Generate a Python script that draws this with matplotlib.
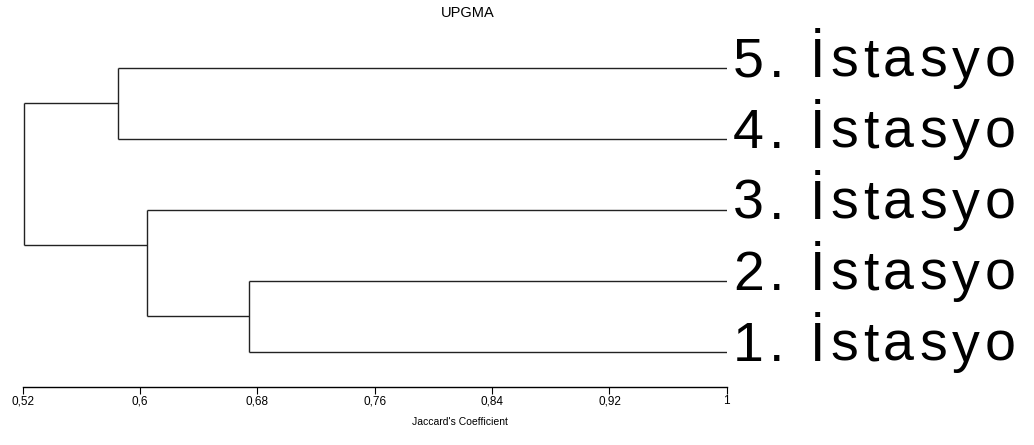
import matplotlib
matplotlib.use('Agg')
import matplotlib.pyplot as plt
from matplotlib import font_manager
from matplotlib.ft2font import FT2Font
from matplotlib.ticker import FuncFormatter
from matplotlib.transforms import Bbox, TransformedBbox

# leaves from bottom to top
labels = ['1. İstasyon', '2. İstasyon', '3. İstasyon', '4. İstasyon', '5. İstasyon']
leaf_y = [1, 2, 3, 4, 5]
# merges: child ids (0-4 leaves, 5+ earlier merges), Jaccard similarity, branch y
merge_a = [0, 2, 3, 6]
merge_b = [1, 5, 4, 7]
merge_sim = [0.6745, 0.6048, 0.5850, 0.5209]
merge_y = [1.5, 2.5, 4.5, 3.5]
ticks = [0.52, 0.60, 0.68, 0.76, 0.84, 0.92, 1.00]

fig = plt.figure(figsize=(10.34, 4.45), dpi=100)
ax = fig.add_axes([0.022, 0.1303, 0.6809, 0.7966])

n = len(labels)


def node_pos(i):
    if i < n:
        return 1.0, leaf_y[i]
    return merge_sim[i - n], merge_y[i - n]


line_kw = dict(color='#222222', lw=1.0, solid_capstyle='butt')
for a, b, s in zip(merge_a, merge_b, merge_sim):
    xa, ya = node_pos(a)
    xb, yb = node_pos(b)
    ax.plot([s, xa], [ya, ya], **line_kw)
    ax.plot([s, xb], [yb, yb], **line_kw)
    ax.plot([s, s], [ya, yb], **line_kw)

ax.set_xlim(0.52, 1.0)
ax.set_ylim(0.5, 5.5)
for side in ['left', 'right', 'top']:
    ax.spines[side].set_visible(False)
ax.spines['bottom'].set_linewidth(1.0)
ax.set_yticks([])
ax.set_xticks(ticks)
ax.xaxis.set_major_formatter(FuncFormatter(lambda v, p: ('%g' % round(v, 2)).replace('.', ',')))
ax.tick_params(axis='x', direction='out', length=5, width=0.8, pad=1,
               labelsize=8.5, labelfontfamily='Liberation Sans')

# big leaf labels with wide letter spacing, cut off near the right edge like the original
fsize = 40
fpath = font_manager.findfont('Liberation Sans')
ft = FT2Font(fpath)
ft.set_size(fsize, 100)
tracking = 5
clip = TransformedBbox(Bbox([[0, 0], [1018 / 1034, 1]]), fig.transFigure)
for lab, y in zip(labels, leaf_y):
    off = 6
    for ch in lab:
        t = ax.annotate(ch, xy=(1.0, y), xytext=(off, -9), textcoords='offset pixels',
                        fontsize=fsize, family='Liberation Sans', ha='left', va='baseline',
                        annotation_clip=False)
        t.set_clip_on(True)
        t.set_clip_box(clip)
        g = ft.load_char(ord(ch))
        off += g.linearHoriAdvance / 65536 + tracking

fig.text(468 / 1034, 1 - 13 / 445, 'UPGMA', ha='center', va='center',
         fontsize=10.5, family='Liberation Sans')
fig.text(460 / 1034, 1 - 422 / 445, "Jaccard's Coefficient", ha='center', va='center',
         fontsize=7.5, family='Liberation Sans')

fig.savefig('out.png', dpi=100)
plt.close(fig)
